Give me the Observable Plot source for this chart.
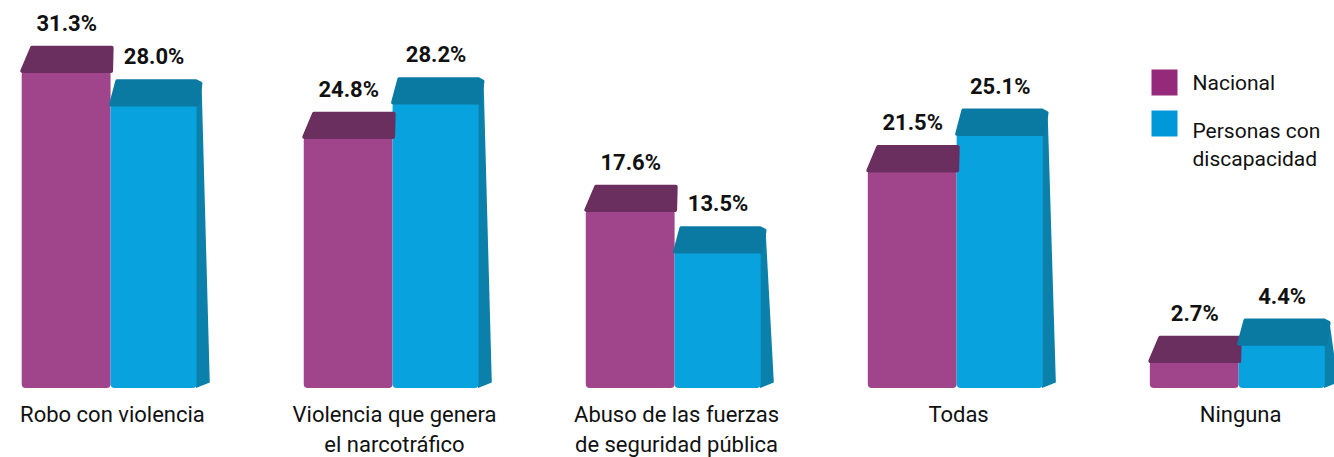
<!DOCTYPE html>
<html>
<head>
<meta charset="utf-8">
<script src="https://cdn.jsdelivr.net/npm/d3@7"></script>
<script src="https://cdn.jsdelivr.net/npm/@observablehq/plot@0.6"></script>
<style>
  html, body { margin: 0; padding: 0; background: #ffffff; }
  #chart { width: 1334px; height: 457px; }
</style>
</head>
<body>
<div id="chart"></div>
<script>
const categories = [
  "Robo con violencia",
  "Violencia que genera\nel narcotráfico",
  "Abuso de las fuerzas\nde seguridad pública",
  "Todas",
  "Ninguna"
];
const series = ["Nacional", "Personas con\ndiscapacidad"];
const nacional = [31.3, 24.8, 17.6, 21.5, 2.7];
const discapacidad = [28.0, 28.2, 13.5, 25.1, 4.4];

// styling constants
const colors = {
  nacionalFront: "#a0458b", nacionalTop: "#6b2f5f", nacionalLegend: "#952a7a",
  discFront: "#08a3de", discTop: "#0b7aa3", discSide: "#0a80aa", discLegend: "#0098d9"
};
const W = 0.31;   // bar width in group units
const D = 2.3;    // top-face depth in value units

// build derived tables
const bars = [];
categories.forEach((c, i) => {
  bars.push({i, s: 0, v: nacional[i], x1: i - W - 0.01, x2: i - 0.005});
  bars.push({i, s: 1, v: discapacidad[i], x1: i - 0.005, x2: i + W - 0.01});
});
const fmt = v => v.toFixed(1) + "%";

const purpleTops = [], blueTops = [], blueSides = [];
bars.forEach((b, k) => {
  if (b.s === 0) {
    [[b.x1, b.v], [b.x2, b.v], [b.x2 + 0.002, b.v + D], [b.x1 + 0.035, b.v + D]]
      .forEach(([x, y]) => purpleTops.push({id: k, x, y}));
  } else {
    [[b.x1, b.v], [b.x2, b.v], [b.x2 + 0.012, b.v + D * 0.9], [b.x2 - 0.004, b.v + D], [b.x1 + 0.022, b.v + D]]
      .forEach(([x, y]) => blueTops.push({id: k, x, y}));
    [[b.x2 - 0.004, 0.05], [b.x2 + 0.045, 0.6], [b.x2 + 0.016, b.v + D * 0.88], [b.x2 - 0.004, b.v]]
      .forEach(([x, y]) => blueSides.push({id: k, x, y}));
  }
});

const chart = Plot.plot({
  width: 1334,
  height: 457,
  marginTop: 33,
  marginBottom: 69,
  marginLeft: 0,
  marginRight: 0,
  style: {fontFamily: "Roboto, 'DejaVu Sans', sans-serif", background: "#ffffff"},
  x: {type: "linear", domain: [-0.397, 4.333], axis: null},
  y: {domain: [0, 35], axis: null},
  marks: [
    Plot.line(blueSides, {x: "x", y: "y", z: "id", fill: colors.discSide, stroke: null, curve: "linear-closed"}),
    Plot.rect(bars, {
      x1: "x1", x2: "x2", y1: 0, y2: "v", rx: 4,
      fill: d => d.s === 0 ? colors.nacionalFront : colors.discFront
    }),
    Plot.line(purpleTops, {x: "x", y: "y", z: "id", fill: colors.nacionalTop, stroke: colors.nacionalTop, strokeWidth: 4, strokeLinejoin: "round", curve: "linear-closed"}),
    Plot.line(blueTops, {x: "x", y: "y", z: "id", fill: colors.discTop, stroke: colors.discTop, strokeWidth: 4, strokeLinejoin: "round", curve: "linear-closed"}),
    Plot.text(bars, {
      x: d => (d.x1 + d.x2) / 2, y: d => d.v + D, text: d => fmt(d.v),
      dy: -17, lineAnchor: "bottom", fontSize: 22, fontWeight: "bold", fill: "#111"
    }),
    Plot.text(categories, {
      x: (d, i) => i, text: d => d, frameAnchor: "bottom",
      dy: 12, lineAnchor: "top", lineHeight: 1.36, fontSize: 22, fill: "#111"
    }),
    // legend
    Plot.dot([0], {frameAnchor: "top-left", dx: 1164, dy: 49, symbol: "square", r: 14.67, fill: colors.nacionalLegend}),
    Plot.dot([0], {frameAnchor: "top-left", dx: 1164, dy: 90, symbol: "square", r: 14.67, fill: colors.discLegend}),
    Plot.text([series[0]], {frameAnchor: "top-left", dx: 1192, dy: 50, text: d => d, textAnchor: "start", lineAnchor: "middle", fontSize: 21, fill: "#111"}),
    Plot.text([series[1]], {frameAnchor: "top-left", dx: 1192, dy: 109.5, text: d => d, textAnchor: "start", lineAnchor: "middle", lineHeight: 1.32, fontSize: 21, fill: "#111"})
  ]
});
document.getElementById("chart").appendChild(chart);
</script>
</body>
</html>
